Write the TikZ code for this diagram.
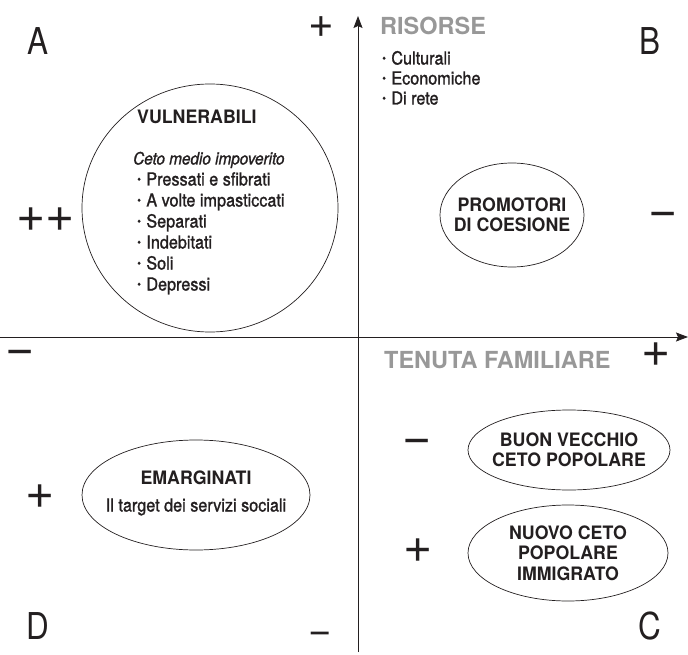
\documentclass[tikz,border=0pt]{standalone}
\usepackage{fontspec}
\setmainfont{TeX Gyre Heros}
\newfontfamily\condf{TeX Gyre Heros}[FakeStretch=0.9,FakeBold=1.3]
\newfontfamily\bcondf{TeX Gyre Heros}[FakeStretch=0.96]
\newfontfamily\quadf{TeX Gyre Heros}[FakeStretch=0.85]
\usetikzlibrary{shapes.geometric,arrows.meta}
\definecolor{ink}{HTML}{231F20}
\definecolor{headgray}{HTML}{989898}
\newcommand\bl{\raisebox{0.12em}{\fontsize{12}{12}\selectfont\textbullet}\hspace{0.3em}}
\tikzset{
  axisline/.style={draw=ink, line width=0.9pt, -{Stealth[length=12pt,width=9pt,inset=2pt]}},
  ell/.style={draw=ink, ellipse, line width=0.7pt, inner sep=0pt},
  quadl/.style={font=\quadf\fontsize{37}{37}\selectfont, text=ink, inner sep=0pt},
  signl/.style={font=\fontsize{50}{50}\selectfont, text=ink, inner sep=0pt, text height=25.5pt, text depth=0pt},
  headtxt/.style={font=\bfseries\fontsize{23.5}{23.5}\selectfont, text=headgray, inner sep=0pt, anchor=west},
  bodytxt/.style={font=\condf\fontsize{18}{21}\selectfont, text=ink, inner sep=0pt, anchor=west, text height=12.5pt, text depth=3.5pt},
  titletxt/.style={font=\bcondf\bfseries\fontsize{18.5}{20.5}\selectfont, text=ink, inner sep=0pt, align=center},
}
\begin{document}
\begin{tikzpicture}[x=1pt,y=-1pt]
\useasboundingbox (0,0) rectangle (688,655);
% axes
\coordinate (xl) at (0,337);
\coordinate (xr) at (688,337);
\coordinate (yb) at (358,652);
\coordinate (yt) at (358,16);
\draw[axisline] (xl) -- (xr);
\draw[axisline] (yb) -- (yt);
% quadrant letters
\node[quadl] (qa) at (38,41) {A};
\node[quadl] (qb) at (650,41) {B};
\node[quadl] (qc) at (650,626) {C};
\node[quadl] (qd) at (38,626) {D};
% signs
\node[signl, font=\fontsize{44}{44}\selectfont, text height=22.5pt] (s1) at (321,26) {+};
\node[signl] (s2) at (46,219) {++};
\node[signl] (s3) at (663,214) {−};
\node[signl] (s4) at (20,352) {−};
\node[signl] (s5) at (656,354) {+};
\node[signl] (s6) at (40,496) {+};
\node[signl, font=\fontsize{40}{40}\selectfont, text height=20.2pt] (s7) at (320,633) {−};
\node[signl] (s8) at (417,441) {−};
\node[signl] (s9) at (418,550) {+};
% axis titles
\node[headtxt] (ris) at (380,26) {RISORSE};
\node[headtxt] (ten) at (384,360) {TENUTA FAMILIARE};
\node[bodytxt] (r1) at (382,60) {\bl Culturali};
\node[bodytxt] (r2) at (382,80) {\bl Economiche};
\node[bodytxt] (r3) at (382,100) {\bl Di rete};
% vulnerabili
\node[ell, minimum width=256pt, minimum height=248pt] (vul) at (210,208) {};
\node[titletxt, anchor=west] (vt) at (137,117) {VULNERABILI};
\node[bodytxt, font=\condf\itshape\fontsize{17}{21}\selectfont] (vc) at (133,160) {Ceto medio impoverito};
\node[bodytxt] (v1) at (137,181) {\bl Pressati e sfibrati};
\node[bodytxt] (v2) at (137,202) {\bl A volte impasticcati};
\node[bodytxt] (v3) at (137,223) {\bl Separati};
\node[bodytxt] (v4) at (137,244) {\bl Indebitati};
\node[bodytxt] (v5) at (137,265) {\bl Soli};
\node[bodytxt] (v6) at (137,286) {\bl Depressi};
% promotori
\node[ell, minimum width=144pt, minimum height=104pt] (pro) at (512,215) {};
\node[titletxt] (prot) at (pro.center) {PROMOTORI\\DI COESIONE};
% emarginati
\node[ell, minimum width=228pt, minimum height=110pt] (ema) at (196,495) {};
\node[titletxt] (emat) at (196,478) {EMARGINATI};
\node[bodytxt, anchor=center] (emas) at (196,507) {Il target dei servizi sociali};
% buon vecchio
\node[ell, minimum width=202pt, minimum height=80pt] (buon) at (569,450) {};
\node[titletxt] (buont) at (buon.center) {BUON VECCHIO\\CETO POPOLARE};
% nuovo
\node[ell, minimum width=200pt, minimum height=96pt] (nuovo) at (568,553) {};
\node[titletxt] (nuovot) at (nuovo.center) {NUOVO CETO\\POPOLARE\\IMMIGRATO};
\end{tikzpicture}
\end{document}
